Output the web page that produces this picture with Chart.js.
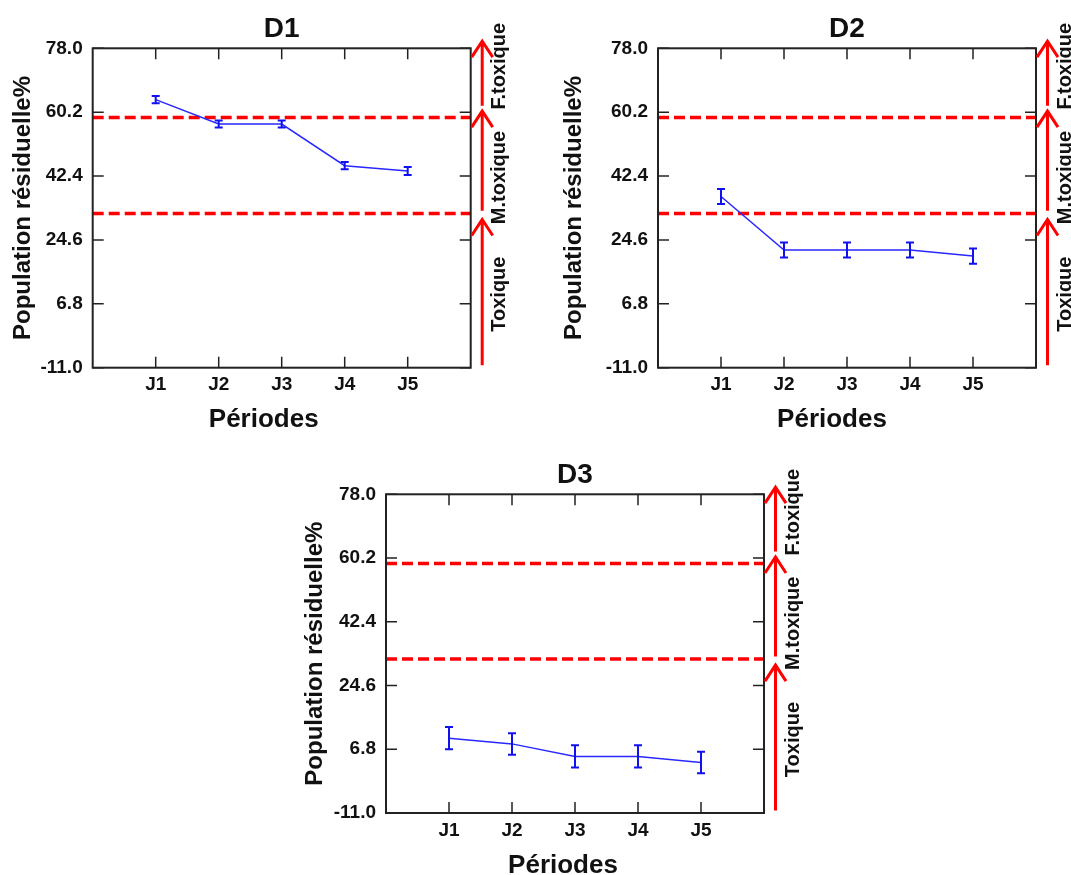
<!DOCTYPE html>
<html lang="fr">
<head>
<meta charset="utf-8">
<title>Population résiduelle</title>
<script src="https://cdn.jsdelivr.net/npm/chart.js@4.4.1/dist/chart.umd.min.js"></script>
<style>
  html, body { margin: 0; padding: 0; background: #fff; }
  #page { position: relative; width: 1071px; height: 875px; overflow: hidden; }
  #page canvas { position: absolute; }
</style>
</head>
<body>
<div id="page">
  <canvas id="chart-d1" width="540" height="445" style="left:0px;top:0px"></canvas>
  <canvas id="chart-d2" width="520" height="445" style="left:551px;top:0px"></canvas>
  <canvas id="chart-d3" width="540" height="429" style="left:292px;top:446px"></canvas>
</div>
<script>
const periods = ["J1", "J2", "J3", "J4", "J5"];
const yTickValues = [-11.0, 6.8, 24.6, 42.4, 60.2, 78.0];

const d1Values = [63.7, 56.9, 56.9, 45.3, 43.8];
const d1Errors = [1.0, 1.0, 1.0, 1.0, 1.1];
const d2Values = [36.7, 21.8, 21.8, 21.8, 20.1];
const d2Errors = [2.1, 2.1, 2.1, 2.1, 2.1];
const d3Values = [9.9, 8.3, 4.8, 4.8, 3.1];
const d3Errors = [3.1, 3.0, 3.1, 3.1, 3.0];

// seuils de toxicite (lignes rouges en tirets)
const thresholds = [58.7, 32.0];

// fleches rouges a droite : [depart, pointe] en unites de l'axe Y
const zoneArrows = [[-10.3, 30.3], [32.7, 60.5], [62.0, 80.0]];
const zoneLabels = ["Toxique", "M.toxique", "F.toxique"];
const zoneLabelValues = [9.5, 42.0, 73.0];

const FONT = "'Liberation Sans', Arial, sans-serif";
Chart.defaults.font.family = FONT;
Chart.defaults.color = "#111";

const decorPlugin = {
  id: "decor",
  afterDatasetsDraw(chart) {
    const ctx = chart.ctx;
    const y = chart.scales.y;
    const ds = chart.data.datasets[0];
    const meta = chart.getDatasetMeta(0);

    ctx.save();
    ctx.strokeStyle = "#1010f0";
    ctx.lineWidth = 2;
    meta.data.forEach((pt, i) => {
      const v = ds.data[i].y;
      const e = ds.errors[i];
      const top = y.getPixelForValue(v + e);
      const bot = y.getPixelForValue(v - e);
      ctx.beginPath();
      ctx.moveTo(pt.x, top);
      ctx.lineTo(pt.x, bot);
      ctx.moveTo(pt.x - 4, top);
      ctx.lineTo(pt.x + 4, top);
      ctx.moveTo(pt.x - 4, bot);
      ctx.lineTo(pt.x + 4, bot);
      ctx.stroke();
    });
    ctx.restore();
  },
  afterDraw(chart, args, opts) {
    const ctx = chart.ctx;
    const area = chart.chartArea;
    const x = chart.scales.x;
    const y = chart.scales.y;
    const tick = 11;

    ctx.save();

    // cadre + graduations vers l'interieur
    ctx.strokeStyle = "#222";
    ctx.lineWidth = 2;
    ctx.strokeRect(area.left, area.top, area.right - area.left, area.bottom - area.top);

    ctx.lineWidth = 1.5;
    ctx.beginPath();
    y.ticks.forEach(t => {
      const py = y.getPixelForValue(t.value);
      ctx.moveTo(area.left, py);
      ctx.lineTo(area.left + tick, py);
      ctx.moveTo(area.right, py);
      ctx.lineTo(area.right - tick, py);
    });
    x.ticks.forEach(t => {
      const px = x.getPixelForValue(t.value);
      ctx.moveTo(px, area.bottom);
      ctx.lineTo(px, area.bottom - tick);
      ctx.moveTo(px, area.top);
      ctx.lineTo(px, area.top + tick);
    });
    ctx.stroke();

    // titre de l'axe X
    ctx.fillStyle = "#111";
    ctx.font = "bold 26px " + FONT;
    ctx.textAlign = "center";
    ctx.textBaseline = "middle";
    ctx.fillText("Périodes", (area.left + area.right) / 2 + opts.xTitleShift, area.bottom + 52.5);

    // fleches des zones
    const ax = area.right + 11.5;
    ctx.strokeStyle = "#ff0000";
    ctx.lineWidth = 3;
    zoneArrows.forEach(([from, to]) => {
      const y0 = y.getPixelForValue(from);
      const y1 = y.getPixelForValue(to);
      ctx.beginPath();
      ctx.moveTo(ax, y0);
      ctx.lineTo(ax, y1);
      ctx.moveTo(ax - 10.5, y1 + 16);
      ctx.lineTo(ax, y1);
      ctx.lineTo(ax + 10.5, y1 + 16);
      ctx.stroke();
    });

    // etiquettes des zones
    ctx.fillStyle = "#111";
    ctx.font = "bold 20px " + FONT;
    zoneLabels.forEach((label, i) => {
      ctx.save();
      ctx.translate(area.right + 29, y.getPixelForValue(zoneLabelValues[i]));
      ctx.rotate(-Math.PI / 2);
      ctx.fillText(label, 0, 0);
      ctx.restore();
    });

    ctx.restore();
  }
};

function thresholdDataset(value) {
  return {
    data: [{ x: 0, y: value }, { x: 6, y: value }],
    borderColor: "#ff0000",
    borderWidth: 3.5,
    borderDash: [11, 5],
    pointRadius: 0
  };
}

function buildPanel(canvasId, title, values, errors, layout) {
  const canvas = document.getElementById(canvasId);

  return new Chart(canvas, {
    type: "line",
    data: {
      datasets: [
        {
          data: periods.map((p, i) => ({ x: i + 1, y: values[i] })),
          errors: errors,
          borderColor: "rgb(40, 40, 255)",
          borderWidth: 1.5,
          pointRadius: 0,
          tension: 0
        },
        ...thresholds.map(thresholdDataset)
      ]
    },
    options: {
      responsive: false,
      animation: false,
      layout: {
        padding: { left: 0, right: layout.rightPad, top: 0, bottom: 0 }
      },
      plugins: {
        legend: { display: false },
        tooltip: { enabled: false },
        title: {
          display: true,
          text: title,
          fullSize: false,
          color: "#111",
          font: { size: 28, weight: "bold" },
          padding: { top: 12, bottom: 2.7 }
        },
        decor: { xTitleShift: layout.xTitleShift }
      },
      scales: {
        x: {
          type: "linear",
          min: 0,
          max: 6,
          grid: { display: false, drawTicks: false },
          border: { display: false },
          afterBuildTicks: scale => {
            scale.ticks = periods.map((p, i) => ({ value: i + 1 }));
          },
          afterFit: scale => {
            scale.height = layout.xAxisHeight;
          },
          ticks: {
            padding: 6,
            font: { size: 19, weight: "bold" },
            callback: value => periods[value - 1] || ""
          }
        },
        y: {
          min: -11,
          max: 78,
          grid: { display: false, drawTicks: false },
          border: { display: false },
          afterBuildTicks: scale => {
            scale.ticks = yTickValues.map(v => ({ value: v }));
          },
          afterFit: scale => {
            scale.width = layout.yAxisWidth;
          },
          ticks: {
            padding: 10,
            font: { size: 19, weight: "bold" },
            callback: value => Number(value).toFixed(1)
          },
          title: {
            display: true,
            text: "Population résiduelle%",
            color: "#111",
            font: { size: 24, weight: "bold" },
            padding: { top: 9, bottom: 0 }
          }
        }
      }
    },
    plugins: [decorPlugin]
  });
}

buildPanel("chart-d1", "D1", d1Values, d1Errors, {
  yAxisWidth: 92.7, rightPad: 69.3, xAxisHeight: 77.3, xTitleShift: -18
});
buildPanel("chart-d2", "D2", d2Values, d2Errors, {
  yAxisWidth: 107, rightPad: 35, xAxisHeight: 77.3, xTitleShift: -15
});
buildPanel("chart-d3", "D3", d3Values, d3Errors, {
  yAxisWidth: 94, rightPad: 68, xAxisHeight: 62, xTitleShift: -12
});
</script>
</body>
</html>
